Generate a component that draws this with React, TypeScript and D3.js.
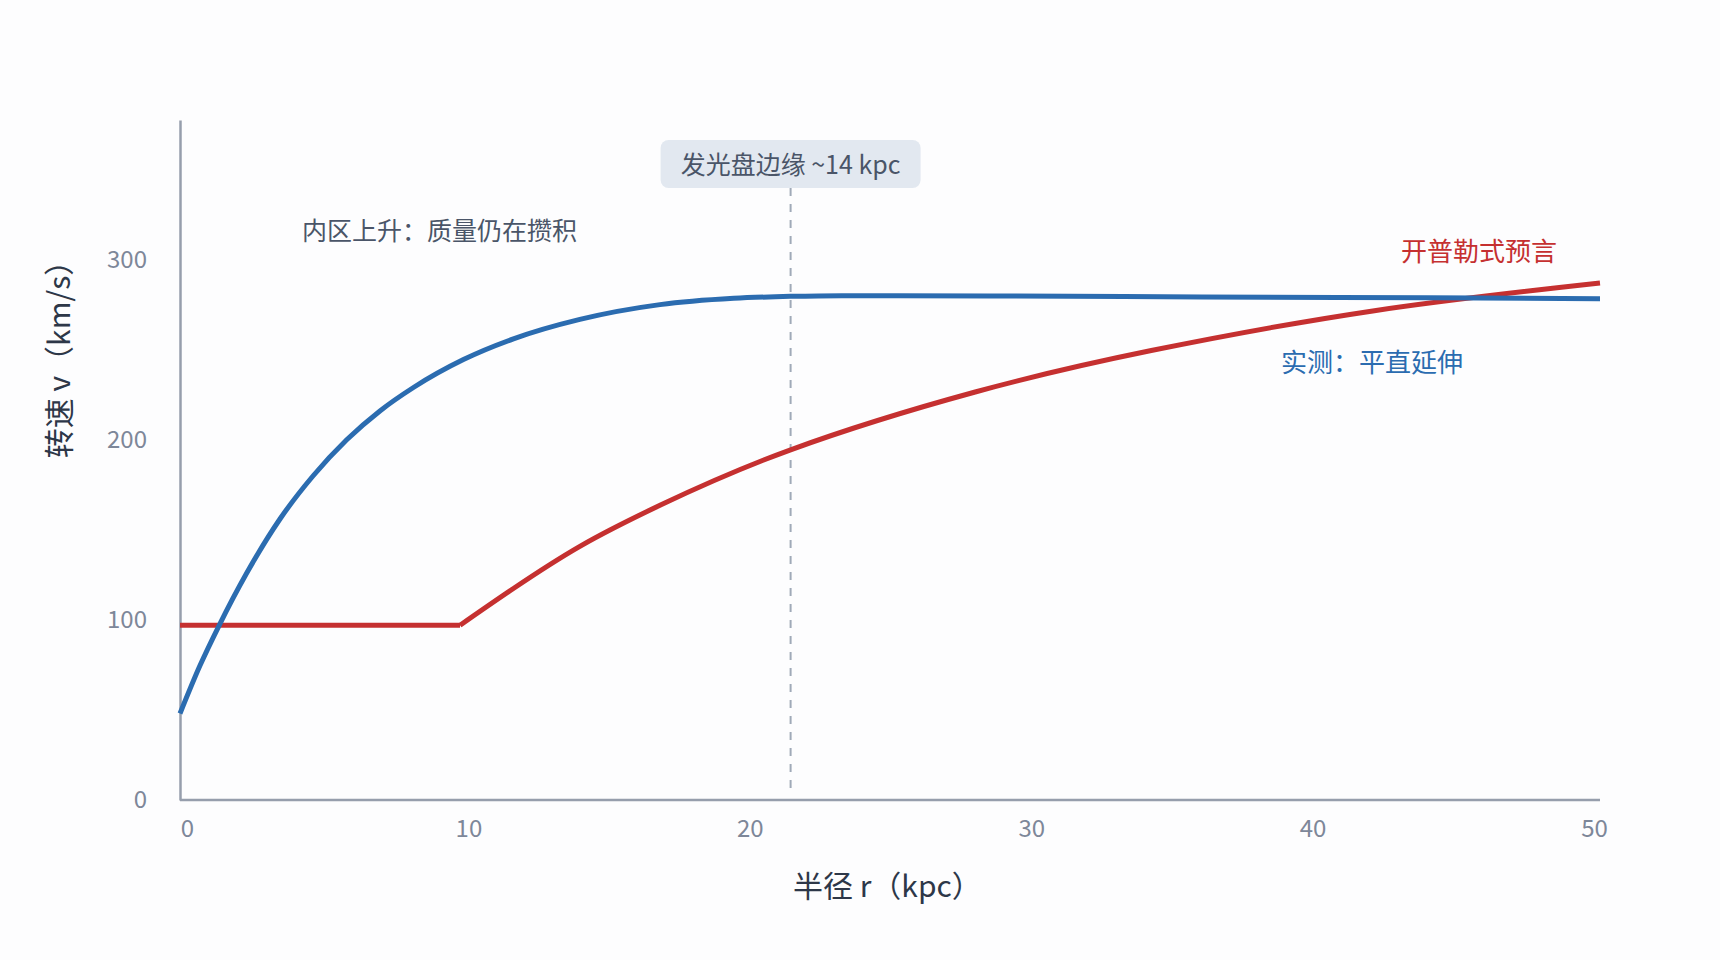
import { useEffect, useRef } from "react";
import * as d3 from "d3";

// observed rotation curve (r in kpc, v in km/s)
const observedR = [0, 0.7, 1.38, 2.35, 3.52, 4.69, 5.87, 7.04, 8.22, 9.98, 11.74, 14.08, 16.9, 19.5, 21.5, 23.3, 28.5, 36, 44, 50];
const observedV = [48, 74.5, 97, 126, 156, 180, 200, 216, 229, 244.5, 256, 266.8, 275, 278.5, 279.6, 280, 279.8, 279.3, 278.8, 278.3];

// keplerian prediction: flat inner part, then rising part
const keplerFlatR = [0, 9.86];
const keplerFlatV = [97, 97];
const keplerRiseR = [9.86, 11.74, 14.08, 16.9, 21.5, 28, 34.2, 42, 50];
const keplerRiseV = [97, 117.4, 140.8, 163.6, 194.4, 226.5, 249.5, 271.5, 287];

const xTicks = [0, 10, 20, 30, 40, 50];
const yTicks = [0, 100, 200, 300];
const diskEdgeR = 21.5;

const WIDTH = 1720;
const HEIGHT = 960;
const FONT = '"Noto Sans CJK SC", "Noto Sans", sans-serif';

type Pt = [number, number];
const zip = (a: number[], b: number[]): Pt[] => a.map((v, i) => [v, b[i]]);

const App = () => {
  const svgRef = useRef<SVGSVGElement | null>(null);

  useEffect(() => {
    if (!svgRef.current) return;
    const svg = d3.select(svgRef.current);
    svg.selectAll("*").remove();

    const x = d3.scaleLinear().domain([0, 50]).range([180, 1600]);
    const y = d3.scaleLinear().domain([0, 377.5]).range([800, 120]);
    // tick labels sit slightly inside the axis ends
    const xLabels = x.copy().range([187, 1594]);

    svg.append("rect").attr("width", WIDTH).attr("height", HEIGHT).attr("fill", "#fdfdfe");

    // Axes
    svg
      .append("g")
      .attr("transform", "translate(0, 800)")
      .call(d3.axisBottom(xLabels).tickValues(xTicks).tickSize(0).tickPadding(20))
      .call((g) => g.select(".domain").remove())
      .call((g) =>
        g.selectAll("text").attr("fill", "#7d8799").attr("font-size", 24).attr("font-family", FONT)
      );
    svg
      .append("line")
      .attr("x1", x.range()[0])
      .attr("x2", x.range()[1])
      .attr("y1", 800)
      .attr("y2", 800)
      .attr("stroke", "#969eac")
      .attr("stroke-width", 2.5);

    svg
      .append("g")
      .attr("transform", "translate(180, 0)")
      .call(d3.axisLeft(y).tickValues(yTicks).tickSize(0).tickSizeOuter(0).tickPadding(33))
      .call((g) => g.select(".domain").attr("stroke", "#969eac").attr("stroke-width", 2.5))
      .call((g) =>
        g.selectAll("text").attr("fill", "#7d8799").attr("font-size", 24).attr("font-family", FONT)
      );

    // Disk edge marker
    svg
      .append("line")
      .attr("x1", x(diskEdgeR))
      .attr("x2", x(diskEdgeR))
      .attr("y1", 188)
      .attr("y2", 794)
      .attr("stroke", "#a0aab8")
      .attr("stroke-width", 2)
      .attr("stroke-dasharray", "8,8");

    svg
      .append("rect")
      .attr("x", x(diskEdgeR) - 130)
      .attr("y", 140)
      .attr("width", 260)
      .attr("height", 48)
      .attr("rx", 8)
      .attr("fill", "#e2e8f0");

    svg
      .append("text")
      .attr("x", x(diskEdgeR))
      .attr("y", 163)
      .attr("text-anchor", "middle")
      .attr("dominant-baseline", "central")
      .attr("fill", "#4a5568")
      .attr("font-size", 25)
      .attr("font-family", FONT)
      .text("发光盘边缘 ~14 kpc");

    // Curves
    const smooth = d3
      .line<Pt>()
      .x((d) => x(d[0]))
      .y((d) => y(d[1]))
      .curve(d3.curveMonotoneX);
    const natural = d3
      .line<Pt>()
      .x((d) => x(d[0]))
      .y((d) => y(d[1]))
      .curve(d3.curveNatural);
    const straight = d3
      .line<Pt>()
      .x((d) => x(d[0]))
      .y((d) => y(d[1]));

    svg
      .append("path")
      .attr("d", straight(zip(keplerFlatR, keplerFlatV)))
      .attr("fill", "none")
      .attr("stroke", "#c53030")
      .attr("stroke-width", 5);
    svg
      .append("path")
      .attr("d", natural(zip(keplerRiseR, keplerRiseV)))
      .attr("fill", "none")
      .attr("stroke", "#c53030")
      .attr("stroke-width", 5);

    svg
      .append("path")
      .attr("d", smooth(zip(observedR, observedV)))
      .attr("fill", "none")
      .attr("stroke", "#2b6cb0")
      .attr("stroke-width", 5);

    // Annotations
    const note = (tx: number, ty: number, txt: string, color: string, size: number) =>
      svg
        .append("text")
        .attr("x", tx)
        .attr("y", ty)
        .attr("dominant-baseline", "central")
        .attr("fill", color)
        .attr("font-size", size)
        .attr("font-family", FONT)
        .text(txt);

    note(302, 229, "内区上升：质量仍在攒积", "#4a5568", 25);
    note(1401, 249, "开普勒式预言", "#c53030", 26);
    note(1281, 360, "实测：平直延伸", "#2b6cb0", 26);

    // Axis titles
    svg
      .append("text")
      .attr("x", 793)
      .attr("y", 884)
      .attr("dominant-baseline", "central")
      .attr("fill", "#2d3748")
      .attr("font-size", 30)
      .attr("font-family", FONT)
      .text("半径 r（kpc）");

    svg
      .append("text")
      .attr("transform", "translate(57, 352) rotate(-90)")
      .attr("text-anchor", "middle")
      .attr("dominant-baseline", "central")
      .attr("fill", "#2d3748")
      .attr("font-size", 30)
      .attr("font-family", FONT)
      .text("转速 v（km/s）");
  }, []);

  return (
    <svg
      ref={svgRef}
      width={WIDTH}
      height={HEIGHT}
      style={{ position: "absolute", left: 0, top: 0, display: "block" }}
    />
  );
};

export default App;
